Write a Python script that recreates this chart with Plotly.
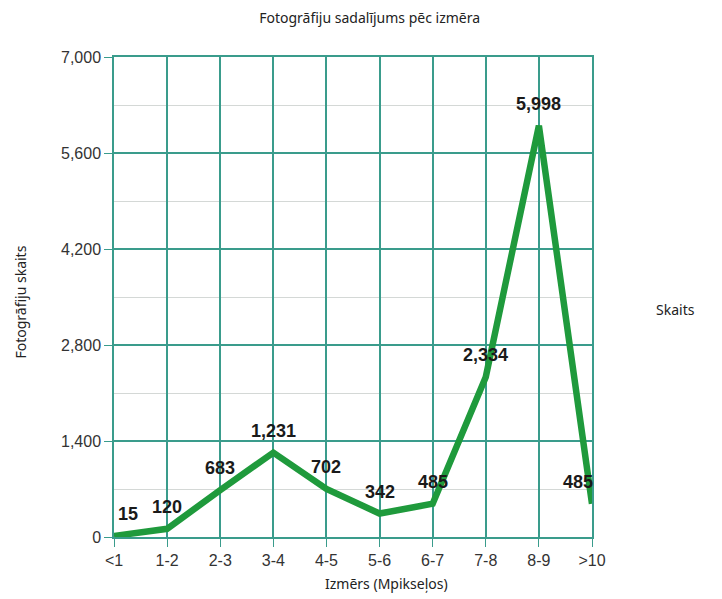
import plotly.graph_objects as go

# Photo count per image size bucket (megapixels)
size_labels = ["<1", "1-2", "2-3", "3-4", "4-5", "5-6", "6-7", "7-8", "8-9", ">10"]
photo_counts = [15, 120, 683, 1231, 702, 342, 485, 2334, 5998, 485]

y_ticks = [0, 1400, 2800, 4200, 5600, 7000]

teal = "#3a9c8c"
x_idx = list(range(len(size_labels)))

fig = go.Figure()
fig.add_trace(go.Scatter(
    x=x_idx,
    y=photo_counts,
    mode="lines",
    name="Skaits",
    line=dict(color="#1f9a3c", width=6.5),
    cliponaxis=False,
    showlegend=False,
))

# Value labels sit above each point; the end points are nudged sideways
last = len(photo_counts) - 1
for i, v in enumerate(photo_counts):
    dx = 14 if i == 0 else (-14 if i == last else 0)
    fig.add_annotation(
        x=i, y=v, text=f"{v:,}", showarrow=False,
        xanchor="center", yanchor="middle",
        xshift=dx, yshift=22,
        font=dict(family="Liberation Sans, Arial", size=18, color="#1a1a1a", weight="bold"),
    )

fig.update_layout(
    width=722,
    height=599,
    margin=dict(l=114, r=130, t=57, b=62),
    paper_bgcolor="white",
    plot_bgcolor="white",
    title=dict(
        text="Fotogrāfiju sadalījums pēc izmēra",
        x=0.512, xanchor="center", y=0.97, yanchor="middle",
        font=dict(family="Noto Sans", size=14, color="#222"),
    ),
    xaxis=dict(
        range=[0, 9],
        tickmode="array",
        tickvals=x_idx,
        ticktext=size_labels,
        showgrid=True,
        gridcolor=teal,
        gridwidth=1.5,
        zeroline=False,
        showline=True,
        mirror=True,
        linecolor=teal,
        linewidth=1.5,
        ticks="outside",
        ticklen=8,
        tickcolor=teal,
        tickfont=dict(family="Liberation Sans, Arial", size=16, color="#333"),
        automargin=False,
    ),
    yaxis=dict(
        range=[0, 7000],
        tickmode="array",
        tickvals=y_ticks,
        tickformat=",",
        showgrid=True,
        gridcolor=teal,
        gridwidth=1.5,
        zeroline=False,
        showline=True,
        mirror=True,
        linecolor=teal,
        linewidth=1.5,
        ticks="outside",
        ticklen=8,
        tickcolor=teal,
        tickfont=dict(family="Liberation Sans, Arial", size=16, color="#333"),
        minor=dict(dtick=700, showgrid=True, gridcolor="#d4d8d6", gridwidth=1),
        automargin=False,
    ),
)

# Axis titles and the series name placed in paper pixels around the plot area
fig.add_annotation(
    text="Izmērs (Mpikseļos)", xref="paper", yref="paper", x=0.57, y=-0.096,
    xanchor="center", yanchor="middle", showarrow=False,
    font=dict(family="Noto Sans", size=14, color="#222"),
)
fig.add_annotation(
    text="Fotogrāfiju skaits", xref="paper", yref="paper", x=-0.195, y=0.49,
    xanchor="center", yanchor="middle", showarrow=False, textangle=-90,
    font=dict(family="Noto Sans", size=14, color="#222"),
)
fig.add_annotation(
    text="Skaits", xref="paper", yref="paper", x=1.175, y=0.473,
    xanchor="center", yanchor="middle", showarrow=False,
    font=dict(family="Noto Sans", size=14, color="#222"),
)

fig.write_html("out.html")
